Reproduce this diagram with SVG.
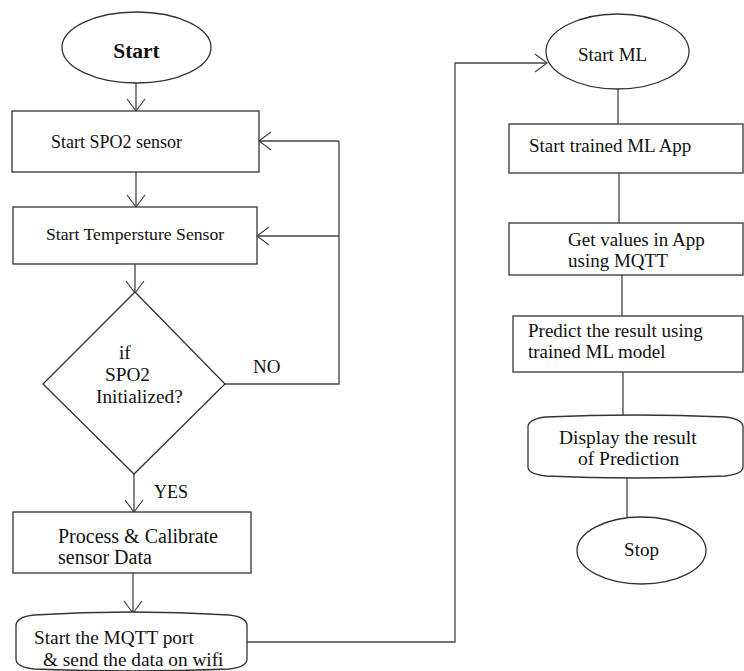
<svg xmlns="http://www.w3.org/2000/svg" width="744" height="671" viewBox="0 0 744 671">
<style>
.s{fill:#fff;stroke:#333;stroke-width:1.3}
.c{fill:none;stroke:#444;stroke-width:1.3}
text{font-family:"Liberation Serif","Times New Roman",serif;fill:#111}
</style>
<defs>
<marker id="a" markerUnits="userSpaceOnUse" markerWidth="30" markerHeight="30" refX="15" refY="15" orient="auto" overflow="visible">
<path d="M3,6 L15,15 L3,24" fill="none" stroke="#444" stroke-width="1.2"/>
</marker>
</defs>
<rect width="744" height="671" fill="#fff"/>
<g id="connectors">
<line class="c" x1="136" y1="83" x2="136" y2="111" marker-end="url(#a)"/>
<line class="c" x1="136" y1="172" x2="136" y2="207" marker-end="url(#a)"/>
<line class="c" x1="135" y1="264" x2="135" y2="293" marker-end="url(#a)"/>
<polyline class="c" points="225,384 339,384 339,141"/>
<line class="c" x1="339" y1="141" x2="259" y2="141" marker-end="url(#a)"/>
<line class="c" x1="339" y1="236" x2="257" y2="236" marker-end="url(#a)"/>
<line class="c" x1="134" y1="474" x2="134" y2="512" marker-end="url(#a)"/>
<line class="c" x1="133" y1="573" x2="133" y2="613" marker-end="url(#a)"/>
<polyline class="c" points="247,642 455,642 455,63 547,63" marker-end="url(#a)"/>
<line class="c" x1="618" y1="89" x2="618" y2="124"/>
<line class="c" x1="619" y1="173" x2="619" y2="223"/>
<line class="c" x1="622" y1="275" x2="622" y2="316"/>
<line class="c" x1="623" y1="372" x2="623" y2="416"/>
<line class="c" x1="627" y1="477" x2="627" y2="517"/>
<text x="253" y="373" font-size="19">NO</text>
<text x="154" y="498" font-size="18">YES</text>
</g>
<g id="start">
<ellipse class="s" cx="136.5" cy="47.5" rx="74.5" ry="35.5"/>
<text x="136.5" y="58" font-size="21.5" font-weight="bold" text-anchor="middle">Start</text>
</g>
<g id="spo2">
<rect class="s" x="12" y="111" width="247" height="61"/>
<text x="51" y="148" font-size="18">Start SPO2 sensor</text>
</g>
<g id="temp">
<rect class="s" x="13" y="207" width="244" height="57"/>
<text x="46" y="240" font-size="17.7">Start Tempersture Sensor</text>
</g>
<g id="decision">
<polygon class="s" points="135,292 225,384 134,474 43,384"/>
<text x="119" y="359" font-size="19.3">if</text>
<text x="105" y="381" font-size="19.3">SPO2</text>
<text x="96" y="403" font-size="19.3">Initialized?</text>
</g>
<g id="process">
<rect class="s" x="13" y="512" width="238" height="61"/>
<text x="58" y="543" font-size="20">Process &amp; Calibrate</text>
<text x="58" y="564" font-size="20">sensor Data</text>
</g>
<g id="mqtt">
<path class="s" d="M16,626 Q16,617 34,615 Q131,609 229,615 Q247,617 247,626 L247,659 Q247,667 229,669 Q131,673 34,669 Q16,667 16,659 Z"/>
<text x="34" y="644" font-size="19.3">Start the MQTT port</text>
<text x="43" y="666" font-size="19.3">&amp; send the data on wifi</text>
</g>
<g id="startml">
<ellipse class="s" cx="617.5" cy="51.5" rx="71.5" ry="37.5"/>
<text x="578" y="61" font-size="19">Start ML</text>
</g>
<g id="trained">
<rect class="s" x="509" y="124" width="234" height="49"/>
<text x="529" y="152" font-size="19">Start trained ML App</text>
</g>
<g id="getvalues">
<rect class="s" x="509" y="223" width="234" height="52"/>
<text x="568" y="246" font-size="19">Get values in App</text>
<text x="568" y="267" font-size="19">using MQTT</text>
</g>
<g id="predict">
<rect class="s" x="513" y="316" width="230" height="56"/>
<text x="528" y="337" font-size="19">Predict the result using</text>
<text x="528" y="358" font-size="19">trained ML model</text>
</g>
<g id="display">
<path class="s" d="M528,427 Q528,419 546,417 Q635,413 725,417 Q743,419 743,427 L743,467 Q743,474 725,476 Q635,480 546,476 Q528,474 528,467 Z"/>
<text x="559" y="444" font-size="19.5">Display the result</text>
<text x="578" y="465" font-size="19.5">of Prediction</text>
</g>
<g id="stop">
<ellipse class="s" cx="641.5" cy="550.5" rx="64.5" ry="33.5"/>
<text x="641.5" y="556" font-size="19" text-anchor="middle">Stop</text>
</g>
</svg>
